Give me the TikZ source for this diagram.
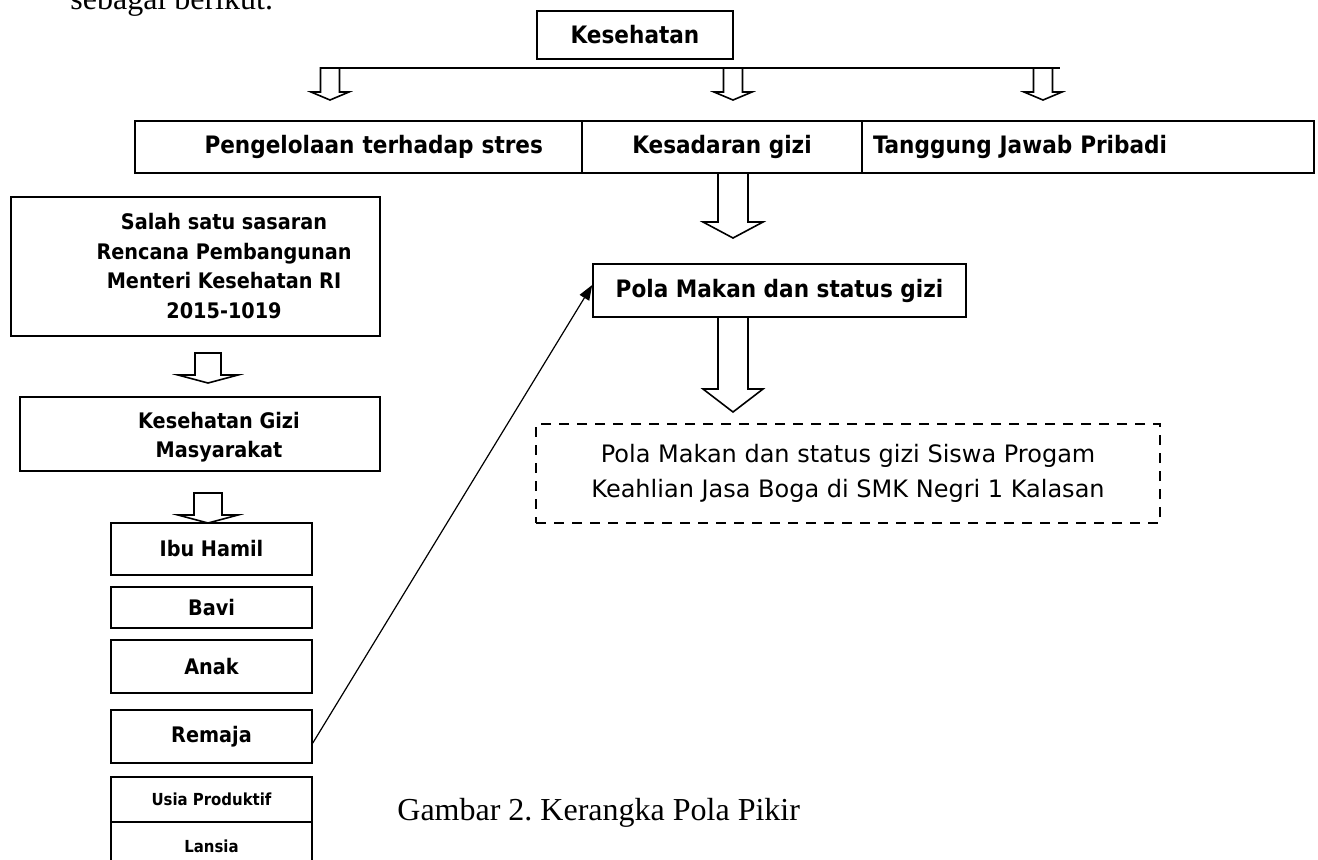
\documentclass[tikz,border=0pt]{standalone}
\usepackage{fontspec}
\setmainfont{Liberation Serif}
\newfontfamily\labelfont{DejaVu Sans Condensed}
\newfontfamily\notefont{DejaVu Sans}
\usetikzlibrary{arrows.meta}

% hollow block arrow hanging down from its top centre
\tikzset{
    pics/hollow/.style n args={4}{code={
        \draw[line width=0.8pt, fill=white] (-#1,0) -- (-#1,#3) -- (-#2,#3)
            -- (0,#4) -- (#2,#3) -- (#1,#3) -- (#1,0) -- cycle;
    }}
}

\begin{document}
\frenchspacing
\begin{tikzpicture}[x=0.5pt, y=-0.5pt,
    box/.style={draw, line width=0.8pt, inner sep=0pt,
        font=\labelfont\bfseries\fontsize{12}{14}\selectfont},
    sidebox/.style={box, minimum width=184.5pt},
    sidetext/.style={align=center, inner sep=0pt,
        font=\labelfont\bfseries\fontsize{10.7}{14.8}\selectfont},
    groupbox/.style={box, minimum width=100.5pt,
        font=\labelfont\bfseries\fontsize{10.7}{13}\selectfont},
    smallbox/.style={groupbox, font=\labelfont\bfseries\fontsize{8.3}{10}\selectfont},
    conn/.style={line width=0.6pt, -{Triangle[length=7.5pt, width=5.5pt]}},
    plain/.style={inner sep=0pt, font=\fontsize{16}{19}\selectfont}]
    \useasboundingbox (0,0) rectangle (1318,859);

    % running text of the page, cut at the top
    \node[plain, anchor=base west] (intro) at (70,9) {sebagai berikut.};

    % Top of the frame
    \node[box, minimum width=98pt, minimum height=24pt] (kes) at (635,35) {Kesehatan};
    \coordinate (barL) at (320,68);
    \coordinate (barR) at (1060,68);
    \draw[line width=0.8pt] (barL) -- (barR);
    \pic at (330,68) {hollow={9.5}{19}{24}{32}};
    \pic at (733,68) {hollow={9.5}{19}{24}{32}};
    \pic at (1043,68) {hollow={9.5}{19}{24}{32}};

    % Three aspects
    \node[box, minimum width=223.5pt, minimum height=26pt, inner xsep=19.5pt,
        text width=184.5pt, align=right] (stres) at (358.5,147) {Pengelolaan terhadap stres};
    \node[box, minimum width=140pt, minimum height=26pt] (sadar) at (722,147) {Kesadaran gizi};
    \node[box, minimum width=226pt, minimum height=26pt, inner xsep=5.5pt,
        text width=215pt, align=left] (tanggung) at (1088,147) {Tanggung Jawab Pribadi};

    % Main line
    \pic at (733,173) {hollow={15}{30}{49}{65}};
    \node[box, minimum width=186.5pt, minimum height=26.5pt] (pola) at (779.5,290.5) {Pola Makan dan status gizi};
    \pic at (733,317) {hollow={15}{30}{72}{95}};
    \node[draw, line width=0.8pt, dash pattern=on 5pt off 4pt, minimum width=312pt,
        minimum height=49.5pt, align=center, inner sep=0pt,
        font=\notefont\fontsize{12}{17.5}\selectfont] (siswa) at (848,473.5)
        {Pola Makan dan status gizi Siswa Progam\\Keahlian Jasa Boga di SMK Negri 1 Kalasan};

    % Left column
    \node[sidebox, minimum height=69.5pt] (salah) at (195.5,266.5) {};
    \node[sidetext] (salah-t) at (224,266) {Salah satu sasaran\\Rencana Pembangunan\\Menteri Kesehatan RI\\2015-1019};
    \pic at (208,353) {hollow={13}{30}{22}{30}};
    \node[sidebox, minimum width=180pt, minimum height=37pt] (gizi) at (200,434) {};
    \node[sidetext] (gizi-t) at (219,437) {Kesehatan Gizi\\Masyarakat};
    \pic at (208,493) {hollow={14}{30}{22}{30}};

    % Target groups
    \node[groupbox, minimum height=26pt] (ibu) at (211.5,549) {Ibu Hamil};
    \node[groupbox, minimum height=20.5pt] (bavi) at (211.5,607.5) {Bavi};
    \node[groupbox, minimum height=26.5pt] (anak) at (211.5,666.5) {Anak};
    \node[groupbox, minimum height=26.5pt] (remaja) at (211.5,736.5) {Remaja};
    \node[smallbox, minimum height=22.5pt] (usia) at (211.5,799.5) {Usia Produktif};
    \node[smallbox, minimum height=24pt] (lansia) at (211.5,846) {Lansia};

    \draw[conn] ([yshift=-3.25pt]remaja.east) -- ([yshift=2.75pt]pola.west);

    \node[plain, anchor=base west] (caption) at (397,820) {Gambar 2. Kerangka Pola Pikir};
\end{tikzpicture}
\end{document}
